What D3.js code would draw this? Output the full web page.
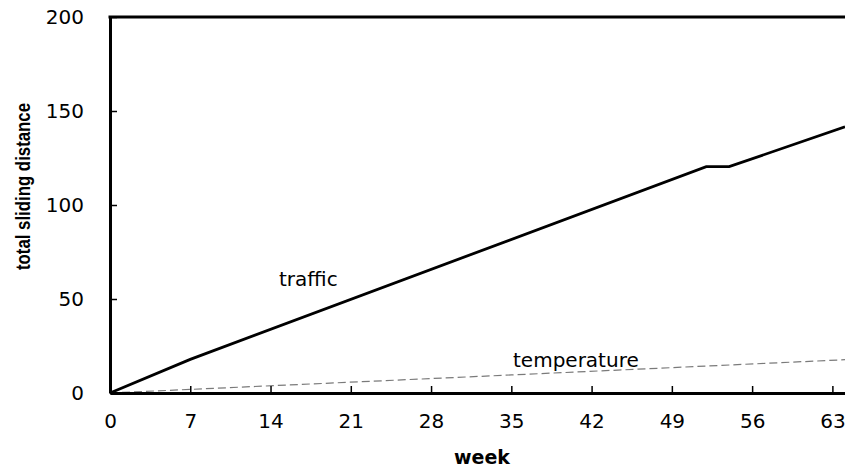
<!DOCTYPE html>
<html>
<head>
<meta charset="utf-8">
<script src="https://cdn.jsdelivr.net/npm/d3@7"></script>
<style>
  html, body { margin: 0; padding: 0; background: #fff; }
  svg { display: block; }
</style>
</head>
<body>
<svg id="chart" width="845" height="470"></svg>
<script>
// ---- data ----
const xTicks = [0, 7, 14, 21, 28, 35, 42, 49, 56, 63];
const yTicks = [0, 50, 100, 150, 200];
const trafficWeeks = [0, 7, 52, 54, 64.1];
const trafficValues = [0, 17.9, 120.4, 120.4, 141.6];
const temperatureWeeks = [0, 35, 64.1];
const temperatureValues = [0, 9.6, 17.7];
const xTitle = "week";
const yTitle = "total sliding distance";

// ---- layout ----
const svg = d3.select("#chart");
const x = d3.scaleLinear().domain([0, 64.1]).range([110, 845]);
const y = d3.scaleLinear().domain([0, 200]).range([393, 17]);
const font = "'DejaVu Sans', Verdana, sans-serif";

const trafficData = trafficWeeks.map((w, i) => ({ w, v: trafficValues[i] }));
const tempData = temperatureWeeks.map((w, i) => ({ w, v: temperatureValues[i] }));
const line = d3.line().x(d => x(d.w)).y(d => y(d.v));

// temperature (dashed grey)
svg.append("path")
  .datum(tempData)
  .attr("d", line)
  .attr("fill", "none")
  .attr("stroke", "#7a7a7a")
  .attr("stroke-width", 1.2)
  .attr("stroke-dasharray", "8,4");

// traffic (solid black)
svg.append("path")
  .datum(trafficData)
  .attr("d", line)
  .attr("fill", "none")
  .attr("stroke", "#000")
  .attr("stroke-width", 2.8)
  .attr("stroke-linejoin", "miter");

// axes
const xAxis = d3.axisBottom(x).tickValues(xTicks).tickSizeInner(-7).tickSizeOuter(0).tickPadding(21);
const yAxis = d3.axisLeft(y).tickValues(yTicks).tickSizeInner(-7).tickSizeOuter(0).tickPadding(26);

const gx = svg.append("g").attr("transform", `translate(0,${y(0)})`).call(xAxis);
const gy = svg.append("g").attr("transform", `translate(${x(0)},0)`).call(yAxis);

[gx, gy].forEach(g => {
  g.select(".domain").attr("stroke", "#000").attr("stroke-width", 3);
  g.selectAll(".tick line").attr("stroke", "#000").attr("stroke-width", 1.5);
  g.selectAll(".tick text")
    .attr("fill", "#000")
    .style("font-family", font)
    .style("font-size", "20px");
});
gx.selectAll(".tick text").attr("dy", "0.68em");

// top border
svg.append("line")
  .attr("x1", x(0) - 1.5).attr("x2", 845)
  .attr("y1", y(200)).attr("y2", y(200))
  .attr("stroke", "#000").attr("stroke-width", 3);

// series labels
svg.append("text")
  .attr("x", 279).attr("y", 285.5)
  .style("font-family", font).style("font-size", "20px")
  .attr("fill", "#000")
  .text("traffic");
svg.append("text")
  .attr("x", 513).attr("y", 366.5)
  .style("font-family", font).style("font-size", "20px")
  .attr("fill", "#000")
  .text("temperature");

// axis titles
svg.append("text")
  .attr("x", 482).attr("y", 464)
  .attr("text-anchor", "middle")
  .style("font-family", font).style("font-size", "19px").style("font-weight", "bold")
  .attr("fill", "#000")
  .text(xTitle);

svg.append("text")
  .attr("transform", "translate(30,186.5) rotate(-90)")
  .attr("text-anchor", "middle")
  .attr("textLength", 167)
  .attr("lengthAdjust", "spacingAndGlyphs")
  .style("font-family", "'Liberation Sans Narrow', 'Liberation Sans', Arial, sans-serif")
  .style("font-size", "21px").style("font-weight", "bold")
  .attr("fill", "#000")
  .text(yTitle);
</script>
</body>
</html>
